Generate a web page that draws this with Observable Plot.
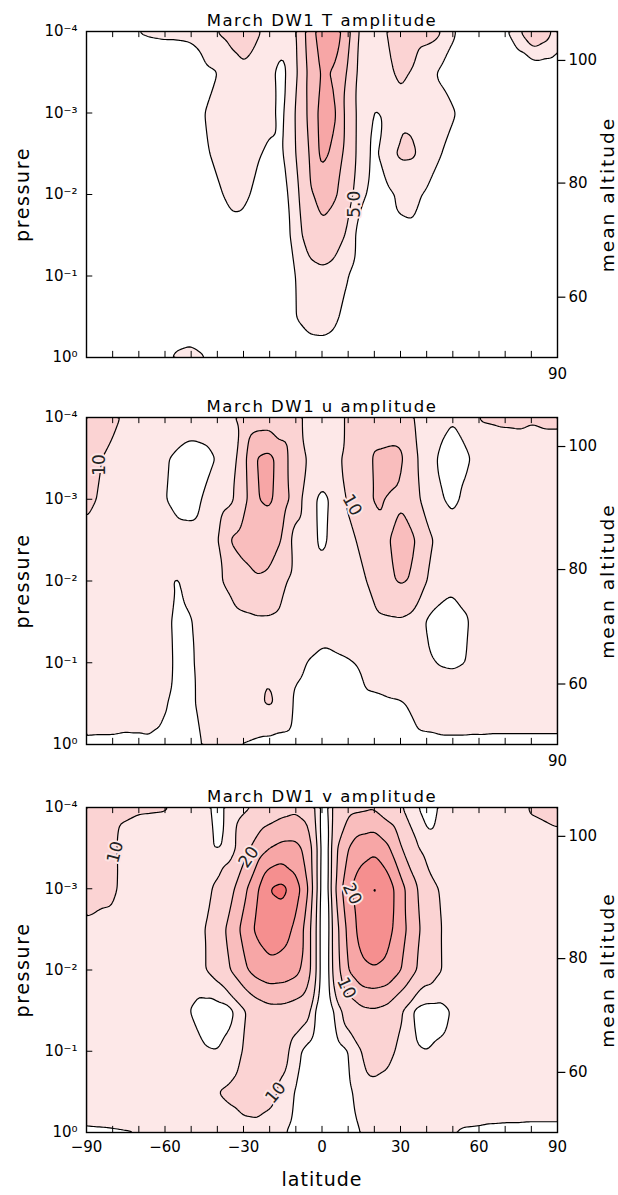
<!DOCTYPE html>
<html><head><meta charset="utf-8">
<script src="https://cdn.jsdelivr.net/npm/d3@7"></script>
<script src="https://cdn.jsdelivr.net/npm/@observablehq/plot@0.6"></script>
<style>body{margin:0;background:#fff;} #chart{width:618px;} #chart svg{display:block;}</style>
</head><body><div id="chart"></div><script>
const lats = [-90,-85,-80,-75,-70,-65,-60,-55,-50,-45,-40,-35,-30,-25,-20,-15,-10,-5,0,5,10,15,20,25,30,35,40,45,50,55,60,65,70,75,80,85,90];
const vLats = [-90,-85,-80,-75,-70,-65,-60,-55,-50,-45,-40,-35,-30,-25,-20,-15,-10,-5,-2.5,0,2.5,5,10,15,20,25,30,35,40,45,50,55,60,65,70,75,80,85,90];
const logps = [-4,-3.5,-3,-2.5,-2,-1.5,-1,-0.5,0];

const tAmp = [
 [0.5,0.6,1.0,1.7,2.6,2.8,2.9,2.9,3.0,3.5, 5.1,5.8,6.2,5.4,4.2,3.6,4.8,8.5,11.5,11.4, 8.2,4.3,4.0,5.1,5.8,6.0,5.8,5.4,2.8,1.4, 1.0,1.1,2.0,4.5,7.8,6.5,3.8],
 [0.3,0.3,0.4,0.5,0.7,0.8,0.9,1.0,1.2,2.0, 2.4,3.9,4.6,4.0,3.0,1.8,4.6,8.0,10.4,9.7, 7.2,4.0,3.4,4.8,5.2,4.9,3.4,2.2,1.6,1.0, 0.7,0.6,0.5,0.5,0.3,0.4,0.5],
 [0.3,0.3,0.3,0.4,0.5,0.7,0.9,1.2,1.7,2.45, 3.3,3.8,3.7,3.4,2.9,2.0,5.2,7.9,11.0,10.4, 6.3,4.2,2.3,2.8,4.7,4.6,3.8,3.4,2.7,1.8, 1.2,0.8,0.6,0.5,0.4,0.4,0.4],
 [0.2,0.3,0.3,0.4,0.5,0.7,1.0,1.4,1.8,2.2, 2.9,3.3,3.2,2.7,2.2,2.2,5.05,7.4,10.8,9.2, 6.3,4.13,1.73,4.3,5.4,5.3,4.0,2.6,1.8,1.2, 0.9,0.7,0.5,0.4,0.4,0.4,0.4],
 [0.2,0.2,0.3,0.3,0.4,0.6,0.8,1.1,1.4,1.8, 2.2,2.9,2.8,2.2,1.5,1.3,4.4,6.95,8.5,7.8, 6.1,3.15,1.5,2.0,2.9,3.0,2.2,1.6,1.2,0.9, 0.7,0.5,0.4,0.4,0.3,0.3,0.3],
 [0.2,0.2,0.2,0.3,0.3,0.4,0.6,0.8,1.0,1.3, 1.6,1.9,2.0,1.7,1.2,1.1,3.6,6.5,6.9,6.2, 4.6,0.9,1.0,1.8,2.1,2.2,1.8,1.2,0.9,0.7, 0.5,0.4,0.3,0.3,0.3,0.3,0.3],
 [0.2,0.2,0.2,0.3,0.3,0.3,0.4,0.5,0.7,0.8, 0.9,1.0,1.0,0.9,0.8,0.8,2.6,3.9,4.4,4.0, 2.55,0.9,0.8,0.9,1.0,1.0,0.9,0.8,0.6,0.5, 0.4,0.3,0.3,0.3,0.3,0.3,0.3],
 [0.3,0.3,0.3,0.4,0.5,0.7,0.9,1.1,1.2,1.1, 0.9,0.8,0.7,0.7,0.7,0.7,2.55,3.3,3.4,3.0, 1.4,0.7,0.7,0.7,0.7,0.7,0.6,0.5,0.5,0.4, 0.4,0.4,0.4,0.4,0.4,0.4,0.4],
 [0.5,0.5,0.6,0.8,1.0,1.6,2.2,2.8,3.0,2.6, 1.8,1.3,1.0,0.8,0.8,0.8,1.0,1.4,1.5,1.3, 0.9,0.7,0.6,0.6,0.6,0.6,0.6,0.6,0.6,0.6, 0.6,0.6,0.6,0.6,0.6,0.6,0.6]
];
const uAmp = [
 [13,13,12,8.5,8.5,8.5,8.3,8,7.5,7.8, 8.5,9.5,11,12.5,12.5,12.5,12,8,4.2,7.5, 11,12.5,13,13,12,10,8,6.5,5.3,7.5, 10.3,10.5,10.8,11,10.5,11,11],
 [12.5,10.5,8,7,7,6.5,5.5,4,3,3.5, 5.3,7,13.5,20.3,21.5,17,12,9.5,7.5,9, 11,12.5,15.5,15.8,16,11,8,4.2,3,4, 7,7.5,7.5,7.5,7.5,7.5,7.5],
 [11.5,9.5,8,7.5,7.5,7,5.2,3.5,3.2,5.5, 7.5,9,13,19.8,21,17,13,6.5,4.0,6.0, 10.8,13.5,15.3,14.9,14.6,12,8,5.5,4,6, 7.5,7.5,7.5,7.5,7.5,7.5,7.5],
 [8.5,8.5,8,7.5,7.5,7.5,7,6.5,6.5,7, 9.5,15.3,17,18,17,14.8,7.5,6.5,4.2,6.3, 8.5,11,13.5,14.6,16.5,15.6,11.5,8.5,7,7, 7.5,7.5,7.5,7.5,7.5,7.5,7.5],
 [7.5,7.5,7.5,7.2,7,6.5,5.3,4.8,6,7.5, 9.5,10.8,13,14.5,14,10.8,8.5,7,7,7.5, 8,9,11.5,14,15.6,14.5,10,7,6,6.5, 7,7.5,7.5,7.5,7.5,7.5,7.5],
 [7.5,7.5,7.5,7.5,7.2,6.5,5.8,4.2,4.8,6.5, 7.5,8.3,9,9.3,9.3,8.5,7.8,7,7,7, 7.5,8,8.8,9.3,9.5,8.5,4.5,3.5,3.2,4.6, 6.5,7.2,7.5,7.5,7.5,7.5,7.5],
 [7.5,7.5,7.5,7.5,7.3,6.8,6,4.3,4.5,6.5, 7.5,8.2,8.8,9.0,9.3,8.0,6,4.8,3.8,4.3, 4.7,5.3,7,7.8,8,7.5,5.5,4.8,4.6,5.0, 6.5,7.2,7.5,7.5,7.5,7.5,7.5],
 [7.5,7.5,7.5,7.2,6.8,6,5.2,4.2,4.5,6, 6.8,7,7.2,9.2,10.6,8.5,4.0,3.5,3.3,3.5, 3.8,4,4.2,4.5,4.7,5.5,6.5,7,7,7, 7.2,7.2,7.2,7.2,7.2,7.2,7.2],
 [4.3,4.2,4.2,4.0,4.2,4.5,4.3,4,4.2,5.2, 5.8,5.5,4.8,4.2,3.8,3.5,3.2,3,3,3, 3.2,3.3,3.5,3.8,4,4.2,4.3,4.4,4.4,4.4, 4.3,4.2,4.2,4.2,4.2,4.2,4.2]
];
const vAmp = [
 [12,12,11.5,11,10.5,10.4,10.3,9.5,8,6, 4.0,6,9,10.5,13,16,18,16,9,3, 4,14,17,18,19,14,10.5,6.5,2.5,5.5, 7.5,8,8,8,8,8.5,10.5,11,11.5],
 [11.5,11.2,11,8,7.5,7.5,7.3,7,6.5,6, 4.6,6,16,24,30,33,33,26,12,2.5, 2.5,18,30,36,38,32,21,12,7,7, 7.5,7.5,7.5,7.5,7.5,7.5,7.5,8,8.5],
 [11,11,10.8,8.5,7.5,7.3,7.2,7.2,7.5,8.5, 11,17,27,38,50.5,53,45,30,12,2, 2.5,20,38,46,51.5,46,34,23,13.5,9.5, 8,7.5,7.5,7.5,7.5,7.5,7.5,7.5,7.5],
 [9.5,9,9,8,7.5,7.3,7.2,7.3,7.8,9.5, 15,23,33,42,46,44,38,24,10,2, 2.5,15,33,44,46,44,34,25,15,10.2, 8,7.5,7.5,7.5,7.5,7.5,7.5,7.5,7.5],
 [7.5,7.5,7.5,7.5,7.5,7.5,7.5,7.6,8,9.5, 13,20,28,34,37,36,33,24,10,2, 3,14,30,38,39.5,38,30.5,22,14,10.3, 8,7.5,7.5,7.5,7.5,7.5,7.5,7.5,7.5],
 [7.5,7.5,7.5,7.5,7.5,7.5,7.3,6.8,4.8,3.2, 2.8,3.6,9,14,17,17,15,12,4,2, 2.5,5.5,14,18,19,17,11,4.5,3.0,3.2, 5.5,7.2,7.5,7.5,7.5,7.5,7.5,7.5,7.5],
 [7.5,7.5,7.5,7.5,7.5,7.5,7.3,7,6.5,5.3, 5.0,6.5,10.5,12.5,13.5,13,6.5,3,2.2,2, 2,2.5,4.8,10,14,12,8.5,5.5,5.0,5.8, 6.8,7.5,7.5,7.5,7.5,7.5,7.5,7.5,7.5],
 [7.5,7.5,7.5,7.5,7.5,7.5,7.5,7.5,7.5,7.5, 10,11,13,14,12,8.5,4.5,2,1.8,1.5, 1.8,2,4,7,8,7.8,7.5,7.5,7.5,7.5, 7.5,7.5,7.5,7.5,7.5,7.5,7.5,7.5,7.5],
 [4.5,4.6,4.7,4.8,4.9,5.0,5.5,6,7,7.5, 7.5,8,8,8,7.5,5.5,3.5,2,1.8,1.5, 1.8,2,3,5.2,6,6.5,6.5,6.5,6.2,5.8, 5.0,4.6,4.5,4.3,4.2,4.2,4.1,4.1,4.1]
];

const tLevels = [2.5, 5, 7.5, 10];
const uLevels = [5, 10, 15, 20];
const vLevels = [5, 10, 20, 30, 40, 50];
const shades = ["#fde8e8", "#fbd3d3", "#f9bdbd", "#f7a6a6", "#f58f8f", "#f36f6f"];

const latTicks = [-90,-80,-70,-60,-50,-40,-30,-20,-10,0,10,20,30,40,50,60,70,80,90];
const latLabels = [-90,-60,-30,0,30,60,90];
const pTicks = [-4,-3,-2,-1,0];
const pLabels = ["10\u207B\u2074","10\u207B\u00B3","10\u207B\u00B2","10\u207B\u00B9","10\u2070"];
const altValues = [60, 80, 100];
const altLogp = [-0.74, -2.14, -3.645];

const tNotes = [{lat: 12.3, logp: -1.88, text: "5.0", angle: -90}];
const uNotes = [{lat: -85, logp: -3.42, text: "10", angle: -90}, {lat: 11.5, logp: -2.93, text: "10", angle: 60}];
const vNotes = [
 {lat: -79, logp: -3.45, text: "10", angle: -75},
 {lat: -28, logp: -3.39, text: "20", angle: -55},
 {lat: 11.5, logp: -2.94, text: "20", angle: 65},
 {lat: 9.3, logp: -1.78, text: "10", angle: 65},
 {lat: -17.7, logp: -0.49, text: "10", angle: -50}
];

const FONT = "DejaVu Sans, Verdana, sans-serif";

function panel(latArr, grid, levels, title, notes, height, mt, mb, last) {
  const pts = [];
  logps.forEach((p, i) => latArr.forEach((la, j) => pts.push({lat: la, logp: p, v: grid[i][j]})));
  const marks = [
    Plot.contour(pts, {x: "lat", y: "logp", fill: "v", thresholds: levels, interpolate: "barycentric",
      blur: 1, stroke: "#000", strokeWidth: 1.2, clip: true}),
    Plot.ruleX(latTicks, {x: d => d, y1: 0, y2: -0.075, stroke: "#000", strokeWidth: 1}),
    Plot.ruleX(latTicks, {x: d => d, y1: -4, y2: -3.925, stroke: "#000", strokeWidth: 1}),
    Plot.ruleY(pTicks, {y: d => d, x1: -90, x2: -87.6, stroke: "#000", strokeWidth: 1}),
    Plot.ruleY(altLogp, {y: d => d, x1: 90, x2: 93.2, stroke: "#000", strokeWidth: 1.2}),
    Plot.frame({stroke: "#000", strokeWidth: 1.4}),
    Plot.text(notes, {x: "lat", y: "logp", text: "text", rotate: "angle", fontSize: 17, fill: "#222",
      stroke: "#fde4e4", strokeWidth: 4, paintOrder: "stroke", fontFamily: FONT}),
    Plot.text(pTicks, {x: -90, y: d => d, text: (d, i) => pLabels[i], dx: -9, textAnchor: "end",
      fontSize: 15, fontFamily: FONT, fill: "#000"}),
    Plot.text(altLogp, {x: 90, y: d => d, text: (d, i) => String(altValues[i]), dx: 11, textAnchor: "start",
      fontSize: 15, fontFamily: FONT, fill: "#000"}),
    Plot.text([title], {frameAnchor: "top", dy: -17, textAnchor: "middle", fontSize: 16.5, fontFamily: FONT, fill: "#000"}),
    Plot.text(["pressure"], {frameAnchor: "left", dx: -64, rotate: -90, textAnchor: "middle", fontSize: 19, fontFamily: FONT, fill: "#000"}),
    Plot.text(["mean altitude"], {frameAnchor: "right", dx: 51, rotate: -90, textAnchor: "middle", fontSize: 18.5, fontFamily: FONT, fill: "#000"})
  ];
  if (last) {
    marks.push(Plot.text(latLabels, {x: d => d, frameAnchor: "bottom", dy: 19,
      text: d => d < 0 ? "\u2212" + (-d) : String(d), fontSize: 15, fontFamily: FONT, fill: "#000"}));
    marks.push(Plot.text(["latitude"], {frameAnchor: "bottom", dy: 53, textAnchor: "middle", fontSize: 19, fontFamily: FONT, fill: "#000"}));
  } else {
    marks.push(Plot.text([90], {x: d => d, frameAnchor: "bottom", dy: 21, text: d => String(d),
      fontSize: 15, fontFamily: FONT, fill: "#000"}));
  }
  return Plot.plot({
    width: 618, height, marginLeft: 86, marginRight: 61, marginTop: mt, marginBottom: mb,
    style: {background: "#fff", fontFamily: FONT, overflow: "visible"},
    x: {domain: [-90, 90], axis: null},
    y: {domain: [0, -4], axis: null},
    color: {type: "threshold", domain: levels, range: ["#ffffff", ...shades.slice(0, levels.length)]},
    marks
  });
}

const root = document.getElementById("chart");
root.appendChild(panel(lats, tAmp, tLevels, "March DW1 T amplitude", tNotes, 387, 31, 30, false));
root.appendChild(panel(lats, uAmp, uLevels, "March DW1 u amplitude", uNotes, 389, 30, 32, false));
root.appendChild(panel(vLats, vAmp, vLevels, "March DW1 v amplitude", vNotes, 419, 31, 63, true));

const spacing = {"pressure": "1.6px", "mean altitude": "2px", "latitude": "1px"};
root.querySelectorAll("text").forEach(t => {
  const s = t.textContent;
  if (s.startsWith("March")) t.style.letterSpacing = "1.5px";
  else if (spacing[s]) t.style.letterSpacing = spacing[s];
});
</script></body></html>
